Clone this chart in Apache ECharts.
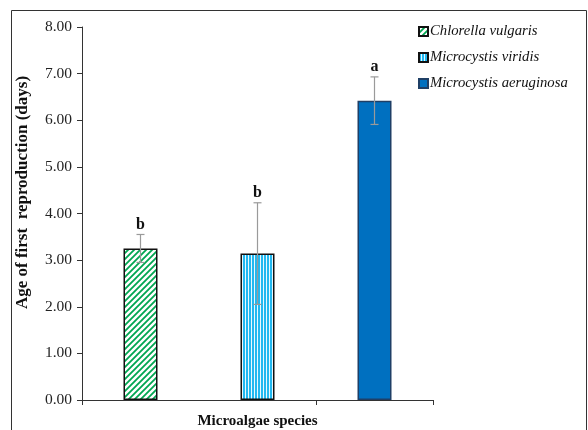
<!DOCTYPE html>
<html><head><meta charset="utf-8">
<script src="https://cdn.jsdelivr.net/npm/echarts@6/dist/echarts.min.js"></script>
<style>html,body{margin:0;padding:0;background:#fff}#c{width:588px;height:430px}</style>
</head><body><div id="c"></div>
<script>
var categories = ['Chlorella vulgaris', 'Microcystis viridis', 'Microcystis aeruginosa'];
var means = [3.25, 3.14, 6.42];
var errors = [0.30, 1.09, 0.51];
var letters = ['b', 'b', 'a'];
var yTicks = { min: 0, max: 8, interval: 1 };

function diagPattern() {
  var c = document.createElement('canvas'); c.width = 6; c.height = 6;
  var g = c.getContext('2d');
  g.fillStyle = '#fff'; g.fillRect(0, 0, 6, 6);
  g.strokeStyle = '#00a651'; g.lineWidth = 1.8;
  g.beginPath();
  g.moveTo(-1, 7); g.lineTo(7, -1);
  g.moveTo(-4, 4); g.lineTo(4, -4);
  g.moveTo(2, 10); g.lineTo(10, 2);
  g.stroke();
  return c;
}
function vertPattern() {
  var c = document.createElement('canvas'); c.width = 3; c.height = 4;
  var g = c.getContext('2d');
  g.fillStyle = '#22b8f0'; g.fillRect(0, 0, 3, 4);
  g.fillStyle = '#e8f8ff'; g.fillRect(2, 0, 1, 4);
  return c;
}
var fills = [
  { image: diagPattern(), repeat: 'repeat' },
  { image: vertPattern(), repeat: 'repeat' },
  '#0070c0'
];
var borders = ['#111', '#111', '#1f3f66'];

var chart = echarts.init(document.getElementById('c'));
var series = categories.map(function (name, i) {
  var d = categories.map(function (_, j) { return j === i ? means[j] : '-'; });
  return {
    name: name, type: 'bar', data: d, barWidth: 34, barGap: '-100%',
    itemStyle: { color: fills[i], borderColor: borders[i], borderWidth: 1.5 },
    silent: true
  };
});
series.push({
  type: 'custom', silent: true, z: 10,
  data: categories.map(function (_, j) { return [j, means[j], errors[j], letters[j]]; }),
  renderItem: function (params, api) {
    var x = api.coord([api.value(0), 0])[0];
    var hi = api.coord([api.value(0), api.value(1) + api.value(2)])[1];
    var lo = api.coord([api.value(0), api.value(1) - api.value(2)])[1];
    var st = { stroke: '#9a9a9a', lineWidth: 1.2 };
    return { type: 'group', children: [
      { type: 'line', shape: { x1: x, y1: hi, x2: x, y2: lo }, style: st },
      { type: 'line', shape: { x1: x - 4, y1: hi, x2: x + 4, y2: hi }, style: st },
      { type: 'line', shape: { x1: x - 4, y1: lo, x2: x + 4, y2: lo }, style: st },
      { type: 'text', x: x, y: hi - 10, style: { text: letters[params.dataIndex], align: 'center', verticalAlign: 'middle',
        font: 'bold 16px "Liberation Serif", serif', fill: '#111' } }
    ] };
  }
});

chart.setOption({
  animation: false,
  graphic: [{ type: 'rect', shape: { x: 11.5, y: 10.5, width: 575, height: 440 },
    style: { fill: 'none', stroke: '#333', lineWidth: 1 }, silent: true }],
  grid: { left: 82, right: 155, top: 27, bottom: 30, outerBoundsMode: 'none', containLabel: false },
  legend: {
    orient: 'vertical', left: 413, top: 19, itemWidth: 9, itemHeight: 9, itemGap: 11,
    icon: 'rect',
    data: categories,
    textStyle: { fontFamily: '"Liberation Serif", serif', fontStyle: 'italic', fontSize: 14.7, color: '#111', padding: [0, 0, 0, -3] }
  },
  xAxis: {
    type: 'category', data: categories,
    name: 'Microalgae species', nameLocation: 'middle', nameGap: 14,
    nameTextStyle: { fontFamily: '"Liberation Serif", serif', fontWeight: 'bold', fontSize: 15, color: '#111' },
    axisLine: { lineStyle: { color: '#333', width: 1 } },
    axisTick: { show: true, alignWithLabel: false, length: 5, lineStyle: { color: '#333' } },
    axisLabel: { show: false }
  },
  yAxis: {
    type: 'value', min: yTicks.min, max: yTicks.max, interval: yTicks.interval,
    name: 'Age of first  reproduction (days)', nameLocation: 'middle', nameGap: 51,
    nameTextStyle: { fontFamily: '"Liberation Serif", serif', fontWeight: 'bold', fontSize: 17, color: '#111', padding: [0, 0, 0, 42] },
    axisLine: { show: true, lineStyle: { color: '#333', width: 1 } },
    axisTick: { show: true, length: 5, lineStyle: { color: '#333' } },
    splitLine: { show: false },
    axisLabel: { formatter: function (v) { return v.toFixed(2); }, margin: 10,
      fontFamily: '"Liberation Serif", serif', fontSize: 15.5, color: '#222' }
  },
  series: series
});
</script></body></html>
